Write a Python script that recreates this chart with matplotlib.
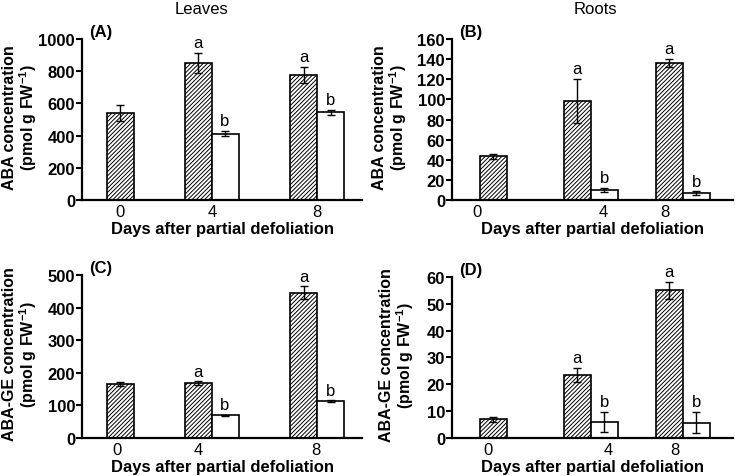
import numpy as np
import matplotlib
matplotlib.use('Agg')
import matplotlib.pyplot as plt

plt.rcParams['font.family'] = ['Liberation Sans', 'DejaVu Sans']
plt.rcParams['mathtext.fontset'] = 'custom'
plt.rcParams['mathtext.rm'] = 'Liberation Sans'
plt.rcParams['mathtext.bf'] = 'Liberation Sans:bold'
plt.rcParams['hatch.color'] = '#333333'
plt.rcParams['hatch.linewidth'] = 0.7

# data: days 0, 4, 8 ; hatched = defoliated, white = control (no day 0)
days = ['0', '4', '8']

aba_leaf_h = [540, 850, 775]
aba_leaf_h_err = [50, 62, 50]
aba_leaf_w = [413, 545]
aba_leaf_w_err = [18, 15]

aba_root_h = [43.5, 98.5, 136.5]
aba_root_h_err = [2.5, 21.5, 4]
aba_root_w = [10, 7]
aba_root_w_err = [1.7, 1.6]

ge_leaf_h = [166, 168, 445]
ge_leaf_h_err = [7, 5.5, 20]
ge_leaf_w = [70, 113]
ge_leaf_w_err = [2, 2]

ge_root_h = [7, 23.5, 55]
ge_root_h_err = [0.9, 2.5, 3.2]
ge_root_w = [6, 5.7]
ge_root_w_err = [3.6, 3.9]

letters_h = ['', 'a', 'a']
letters_w = ['b', 'b']

fig = plt.figure(figsize=(7.35, 4.77), dpi=100)

# layout in axis units (axis spans 0..280)
panels = [
    dict(rect=[0.1116, 0.5786, 0.381, 0.3375], h=aba_leaf_h, he=aba_leaf_h_err,
         w=aba_leaf_w, we=aba_leaf_w_err, ymax=1000, yt=np.arange(0, 1001, 200),
         ylab='ABA concentration', tag='(A)', pos=[38, 129.5, 235], ticks=[38, 130, 235], lx=-0.155),
    dict(rect=[0.615, 0.5786, 0.382, 0.3375], h=aba_root_h, he=aba_root_h_err,
         w=aba_root_w, we=aba_root_w_err, ymax=160, yt=np.arange(0, 161, 20),
         ylab='ABA concentration', tag='(B)', pos=[41, 138.5, 230], ticks=[25, 151, 212], lx=-0.155),
    dict(rect=[0.1116, 0.0797, 0.381, 0.3417], h=ge_leaf_h, he=ge_leaf_h_err,
         w=ge_leaf_w, we=ge_leaf_w_err, ymax=500, yt=np.arange(0, 501, 100),
         ylab='ABA-GE concentration', tag='(C)', pos=[38, 129.5, 235], ticks=[35, 116, 234], lx=-0.155),
    dict(rect=[0.615, 0.0797, 0.382, 0.3375], h=ge_root_h, he=ge_root_h_err,
         w=ge_root_w, we=ge_root_w_err, ymax=60, yt=np.arange(0, 61, 10),
         ylab='ABA-GE concentration', tag='(D)', pos=[41, 138.5, 230], ticks=[36, 156, 222], lx=-0.13),
]

bw = 27
for p in panels:
    ax = fig.add_axes(p['rect'])
    pos = np.array(p['pos'], dtype=float)
    # hatched bars: day 0 centred, days 4/8 to the left of the boundary
    xh = np.array([pos[0], pos[1] - bw / 2, pos[2] - bw / 2])
    xw = np.array([pos[1] + bw / 2, pos[2] + bw / 2])
    ax.bar(xh, p['h'], width=bw, facecolor='white', edgecolor='black',
           hatch='////////', linewidth=1.2, zorder=2)
    ax.bar(xw, p['w'], width=bw, facecolor='white', edgecolor='black',
           linewidth=1.2, zorder=2)
    ax.errorbar(xh, p['h'], yerr=p['he'], fmt='none', ecolor='black',
                elinewidth=1, capsize=3, capthick=1, zorder=3)
    ax.errorbar(xw, p['w'], yerr=p['we'], fmt='none', ecolor='black',
                elinewidth=1, capsize=3, capthick=1, zorder=3)
    for x, v, e, t in zip(xh, p['h'], p['he'], letters_h):
        if t:
            ax.annotate(t, (x, v + e), xytext=(0, 2), textcoords='offset points',
                        ha='center', va='bottom', fontsize=12)
    for x, v, e, t in zip(xw, p['w'], p['we'], letters_w):
        ax.annotate(t, (x, v + e), xytext=(0, 2), textcoords='offset points',
                    ha='center', va='bottom', fontsize=12)

    ax.set_xlim(0, 280)
    ax.set_ylim(0, p['ymax'])
    ax.set_yticks(p['yt'])
    ax.set_yticklabels([str(v) for v in p['yt']], fontweight='bold', fontsize=12)
    ax.set_xticks(p['ticks'])
    ax.set_xticklabels(days, fontsize=12)
    ax.tick_params(axis='x', length=0, pad=3)
    ax.tick_params(axis='y', length=4, width=1.5, pad=1)
    for s in ['top', 'right']:
        ax.spines[s].set_visible(False)
    for s in ['left', 'bottom']:
        ax.spines[s].set_linewidth(1.6)
    ax.set_xlabel('Days after partial defoliation', fontweight='bold', fontsize=12, labelpad=1)
    ax.set_ylabel(p['ylab'] + '\n' + r'(pmol g FW$^{\mathbf{-1}}$)',
                  fontweight='bold', fontsize=11.5, linespacing=1.0)
    ax.yaxis.set_label_coords(p['lx'], 0.52)
    ax.text(0.025, 1.045, p['tag'], transform=ax.transAxes, ha='left', va='center',
            fontweight='bold', fontsize=12)

fig.text(202 / 735, 1 - 9 / 477, 'Leaves', ha='center', va='center', fontsize=12)
fig.text(595 / 735, 1 - 9 / 477, 'Roots', ha='center', va='center', fontsize=12)

fig.savefig('out.png', dpi=100)
